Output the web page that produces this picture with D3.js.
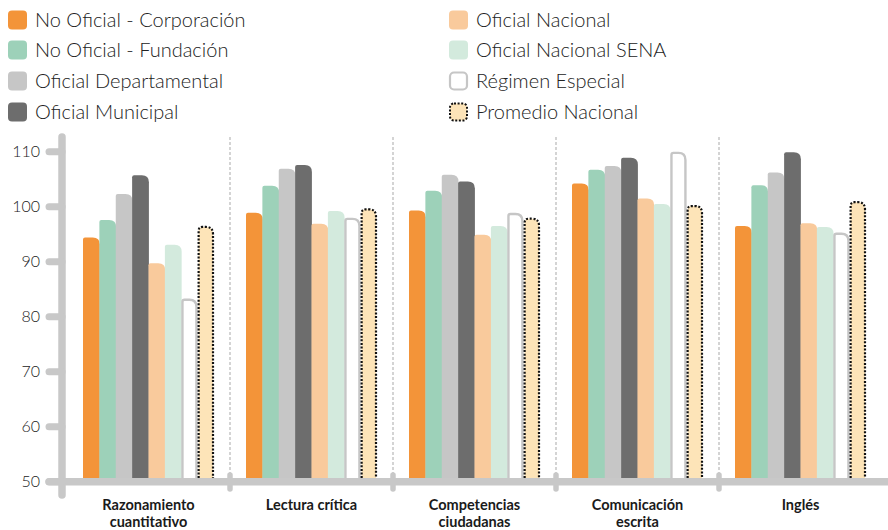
<!DOCTYPE html>
<html><head><meta charset="utf-8">
<script src="https://cdn.jsdelivr.net/npm/d3@7"></script>
<style>body{margin:0;background:#fff}svg{display:block}</style>
</head><body><svg id="c" width="888" height="530"></svg>
<script>
const categories = [["Razonamiento","cuantitativo"],["Lectura crítica"],["Competencias","ciudadanas"],["Comunicación","escrita"],["Inglés"]];
const seriesNames = ["No Oficial - Corporación","No Oficial - Fundación","Oficial Departamental","Oficial Municipal","Oficial Nacional","Oficial Nacional SENA","Régimen Especial","Promedio Nacional"];
const noOficialCorporacion = [94.4, 98.9, 99.3, 104.2, 96.5];
const noOficialFundacion   = [97.6, 103.8, 102.9, 106.7, 103.9];
const oficialDepartamental = [102.3, 106.9, 105.8, 107.4, 106.2];
const oficialMunicipal     = [105.7, 107.6, 104.6, 108.9, 109.9];
const oficialNacional      = [89.7, 96.9, 94.9, 101.5, 97.0];
const oficialNacionalSENA  = [93.1, 99.2, 96.5, 100.5, 96.3];
const regimenEspecial      = [83.3, 98.0, 98.9, 110.0, 95.3];
const promedioNacional     = [96.5, 99.7, 98.0, 100.3, 101.0];
const yTicks = [50,60,70,80,90,100,110];

const values = [noOficialCorporacion,noOficialFundacion,oficialDepartamental,oficialMunicipal,oficialNacional,oficialNacionalSENA,regimenEspecial,promedioNacional];
const fills = ["#f39439","#9dd1b9","#c6c6c6","#6d6d6d","#f9ca9c","#d3eadd","#ffffff","#fde4b8"];
const axisCol = "#c8c8c8";

const svg = d3.select("#c");
const y = d3.scaleLinear().domain([50,110]).range([481.7,151.7]);
const x0 = d3.scaleBand().domain(d3.range(categories.length)).range([67,882]).paddingInner(0).paddingOuter(0);
const x1 = d3.scaleBand().domain(d3.range(seriesNames.length)).range([16, x0.bandwidth()-16]).paddingInner(0);

// separators
const seps = [1,2,3,4].map(i=>x0(i));
svg.selectAll(".sep").data(seps).enter().append("line")
  .attr("x1",d=>d).attr("x2",d=>d).attr("y1",137).attr("y2",481)
  .attr("stroke","#a9a9a9").attr("stroke-width",1).attr("stroke-dasharray","3,2");

function barPath(x, w, yt, yb, r1, r2){
  return `M${x},${yb} L${x},${yt+r1} Q${x},${yt} ${x+r1},${yt} L${x+w-r2},${yt} Q${x+w},${yt} ${x+w},${yt+r2} L${x+w},${yb}`;
}

const g = svg.append("g");
values.forEach((arr, s) => {
  arr.forEach((v, c) => {
    const bx = x0(c) + x1(s);
    const w = x1.bandwidth();
    const yt = y(v), yb = y(50);
    if (s === 6) {
      g.append("path").attr("d", barPath(bx+1.2, w-2.4, yt+1.2, yb, 2, 7))
        .attr("fill","#fff").attr("stroke","#c6c6c6").attr("stroke-width",2.4);
    } else if (s === 7) {
      g.append("path").attr("d", barPath(bx+1, w-2, yt+1, yb, 4, 7)+"Z")
        .attr("fill",fills[s]).attr("stroke","#111").attr("stroke-width",2.2).attr("stroke-dasharray","2,1.6");
    } else {
      g.append("path").attr("d", barPath(bx, w+0.4, yt, yb, 2, 7)+"Z").attr("fill",fills[s]);
    }
  });
});

// axes
svg.append("line").attr("x1",49).attr("x2",892).attr("y1",481.7).attr("y2",481.7)
  .attr("stroke",axisCol).attr("stroke-width",7.5).attr("stroke-linecap","round");
svg.append("line").attr("x1",62).attr("x2",62).attr("y1",137).attr("y2",495)
  .attr("stroke",axisCol).attr("stroke-width",7.5).attr("stroke-linecap","round");
svg.selectAll(".yt").data(yTicks).enter().append("line")
  .attr("x1",49).attr("x2",62).attr("y1",d=>y(d)).attr("y2",d=>y(d))
  .attr("stroke",axisCol).attr("stroke-width",7).attr("stroke-linecap","round");
svg.selectAll(".xt").data(seps).enter().append("line")
  .attr("x1",d=>d).attr("x2",d=>d).attr("y1",475).attr("y2",489)
  .attr("stroke",axisCol).attr("stroke-width",5.5).attr("stroke-linecap","round");
svg.selectAll(".ytl").data(yTicks).enter().append("text")
  .attr("x",40).attr("y",d=>y(d)).attr("dy","0.35em").attr("text-anchor","end")
  .attr("font-family","Lato").attr("font-weight",300).attr("font-size",16).attr("fill","#222")
  .text(d=>d);

// category labels
categories.forEach((lines,c)=>{
  lines.forEach((ln,i)=>{
    svg.append("text").attr("text-anchor","middle")
      .attr("font-family","Lato").attr("font-weight",700).attr("font-size",14.5).attr("fill","#1a1a1a")
      .attr("x",x0(c)+x0.bandwidth()/2).attr("y",510+i*16.5).text(ln);
  });
});

// legend
const legPos = [[8,20],[8,50],[8,81],[8,112],[449,20],[449,50],[449,81],[449,112]];
seriesNames.forEach((n,i)=>{
  const [lx,ly] = legPos[i];
  const r = svg.append("rect").attr("x",lx).attr("y",ly-9.5).attr("width",19).attr("height",19).attr("rx",4).attr("fill",fills[i]);
  if (i===6) r.attr("x",lx+1).attr("y",ly-8.5).attr("width",17).attr("height",17).attr("stroke","#c6c6c6").attr("stroke-width",2.2);
  if (i===7) r.attr("x",lx+1).attr("y",ly-8.5).attr("width",17).attr("height",17).attr("stroke","#111").attr("stroke-width",2).attr("stroke-dasharray","2,1.6");
  svg.append("text").attr("x",lx+27).attr("y",ly).attr("dy","0.35em")
    .attr("font-family","Lato").attr("font-weight",300).attr("font-size",20).attr("fill","#222").text(n);
});
</script></body></html>
